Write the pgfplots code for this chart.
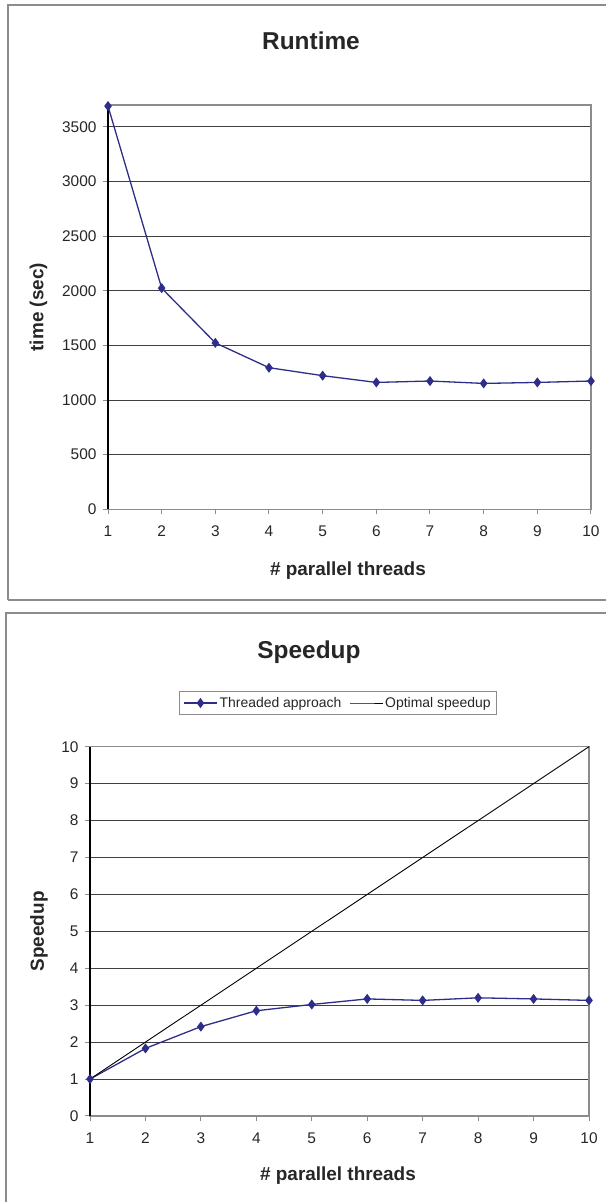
\documentclass[border=0pt]{standalone}
\usepackage{pgfplots}
\pgfplotsset{compat=1.18}
\usepackage{fontspec}
\setmainfont{Liberation Sans}
\definecolor{serblue}{HTML}{2E2E8A}
\definecolor{boxgray}{HTML}{8C8C8C}
\definecolor{gridc}{HTML}{404040}
\newcommand{\labfont}{\bfseries\fontsize{19}{22}\selectfont}
\newcommand{\titfont}{\bfseries\fontsize{24.5}{28}\selectfont}
\pgfplotsset{
  excelstyle/.style={
    scale only axis,
    axis line style={boxgray, line width=1.2bp},
    tick align=outside,
    xtick pos=left, ytick pos=left,
    major tick length=5bp,
    tick style={boxgray, line width=1bp},
    ymajorgrids,
    grid style={gridc, line width=0.9bp},
    /pgf/number format/assume math mode=true,
    /pgf/number format/1000 sep={},
    ticklabel style={font=\fontsize{15.5}{18}\selectfont, text=black!85},
    xticklabel style={yshift=-8bp},
    yticklabel style={xshift=-3bp},
    xmin=1, xmax=10, xtick={1,...,10},
    clip=false,
    legend image code/.code={\draw[mark repeat=2,mark phase=2] plot coordinates {(0bp,0bp) (16.5bp,0bp) (33bp,0bp)};},
  }
}
\begin{document}
\begin{tikzpicture}
\useasboundingbox (0,0) rectangle (606bp,1202bp);
% chart boxes
\draw[boxgray, line width=1.3bp] (8bp,602bp) -- (8bp,1197bp) -- (606bp,1197bp);
\draw[boxgray, line width=1.3bp] (8bp,602bp) -- (606bp,602bp);
\draw[boxgray, line width=1.3bp] (6bp,0bp) -- (6bp,589bp) -- (606bp,589bp);

\begin{axis}[excelstyle,
  at={(108bp,692.7bp)}, anchor=south west,
  width=483bp, height=404.3bp,
  ymin=0, ymax=3700, ytick={0,500,...,3500},
  title={Runtime},
  every axis title/.style={at={(rel axis cs:0.5,1)}, anchor=base, yshift=55bp, xshift=-38.5bp, font=\titfont, text=black!85},
  xlabel={\# parallel threads},
  every axis x label/.style={at={(rel axis cs:0.5,0)}, anchor=base, yshift=-66.7bp, xshift=-1.5bp, font=\labfont, text=black!85},
  ylabel={time (sec)},
  every axis y label/.style={at={(rel axis cs:0,0.5)}, xshift=-69.4bp, rotate=90, anchor=center, font=\labfont, text=black!85},
]
\draw[black, line width=1.2bp] (rel axis cs:0,0) -- (rel axis cs:0,1);
\addplot[serblue, line width=1.3bp, mark=diamond*, mark size=4bp, mark options={solid, fill=serblue}]
coordinates {(1,3690) (2,2024) (3,1523) (4,1296) (5,1223) (6,1161) (7,1174) (8,1152) (9,1161) (10,1174)};
\end{axis}

\begin{axis}[excelstyle,
  at={(90bp,86bp)}, anchor=south west,
  width=499bp, height=369.3bp,
  ymin=0, ymax=10, ytick={0,...,10},
  title={Speedup},
  every axis title/.style={at={(rel axis cs:0.5,1)}, anchor=base, yshift=88.4bp, xshift=-30.5bp, font=\titfont, text=black!85},
  xlabel={\# parallel threads},
  every axis x label/.style={at={(rel axis cs:0.5,0)}, anchor=base, yshift=-64bp, xshift=-1.5bp, font=\labfont, text=black!85},
  ylabel={Speedup},
  every axis y label/.style={at={(rel axis cs:0,0.5)}, xshift=-51bp, rotate=90, anchor=center, font=\labfont, text=black!85},
  legend columns=2,
  legend style={at={(rel axis cs:0.5,1)}, anchor=center, yshift=43.7bp, xshift=-1.5bp,
    draw=boxgray, line width=0.9bp, font=\fontsize{14}{16}\selectfont, text=black!85,
    inner xsep=4bp, inner ysep=4bp,
    /tikz/every even column/.append style={column sep=6bp}},
]
\draw[black, line width=1.2bp] (rel axis cs:0,0) -- (rel axis cs:0,1);
\addplot[serblue, line width=1.3bp, mark=diamond*, mark size=4bp, mark options={solid, fill=serblue}]
coordinates {(1,1.00) (2,1.83) (3,2.42) (4,2.85) (5,3.02) (6,3.17) (7,3.13) (8,3.20) (9,3.17) (10,3.13)};
\addlegendentry{Threaded approach}
\addplot[black, line width=0.9bp]
coordinates {(1,1) (2,2) (3,3) (4,4) (5,5) (6,6) (7,7) (8,8) (9,9) (10,10)};
\addlegendentry{Optimal speedup}
\end{axis}
\end{tikzpicture}
\end{document}
